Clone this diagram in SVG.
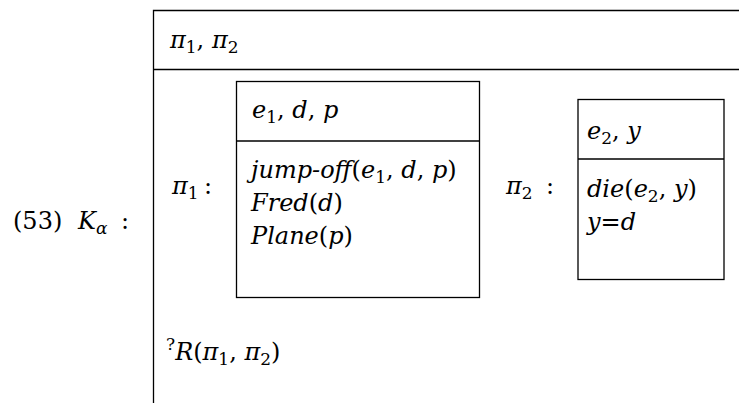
<svg xmlns="http://www.w3.org/2000/svg" width="739" height="403" viewBox="0 0 739 403" font-family="'DejaVu Serif', serif">
<style>
.l{fill:none;stroke:#000;stroke-width:1.3}
text{font-size:24px;fill:#000}
.i{font-style:italic}
.s{font-size:17px;font-style:normal}
.si{font-size:17px;font-style:italic}
</style>
<rect width="739" height="403" fill="#fff"/>
<g id="label">
<text x="13" y="229">(53)<tspan x="78" class="i">K</tspan><tspan class="si" dy="5">α</tspan><tspan x="121" dy="-5">:</tspan></text>
</g>
<g id="outer">
<path class="l" d="M153.5,403 V10.5 H739 M153.5,69.5 H739"/>
<text x="170" y="48"><tspan class="i">π</tspan><tspan class="s" dy="5">1</tspan><tspan dy="-5">, </tspan><tspan class="i">π</tspan><tspan class="s" dy="5">2</tspan></text>
<text x="166" y="360"><tspan class="s" dy="-10">?</tspan><tspan class="i" dy="10">R</tspan>(<tspan class="i">π</tspan><tspan class="s" dy="5">1</tspan><tspan dy="-5">, </tspan><tspan class="i">π</tspan><tspan class="s" dy="5">2</tspan><tspan dy="-5">)</tspan></text>
</g>
<g id="pi1">
<text x="172" y="194"><tspan class="i">π</tspan><tspan class="s" dy="5">1</tspan><tspan x="204" dy="-5">:</tspan></text>
<rect class="l" x="236.5" y="81.5" width="243" height="216"/>
<path class="l" d="M236.5,141 H479.5"/>
<text x="252" y="118"><tspan class="i">e</tspan><tspan class="s" dy="5">1</tspan><tspan dy="-5">, </tspan><tspan class="i">d</tspan>, <tspan class="i">p</tspan></text>
<text x="251" y="178"><tspan class="i">jump-off</tspan>(<tspan class="i">e</tspan><tspan class="s" dy="5">1</tspan><tspan dy="-5">, </tspan><tspan class="i">d</tspan>, <tspan class="i">p</tspan>)</text>
<text x="251" y="211"><tspan class="i">Fred</tspan>(<tspan class="i">d</tspan>)</text>
<text x="251" y="244"><tspan class="i">Plane</tspan>(<tspan class="i">p</tspan>)</text>
</g>
<g id="pi2">
<text x="506" y="194"><tspan class="i">π</tspan><tspan class="s" dy="5">2</tspan><tspan x="546" dy="-5">:</tspan></text>
<rect class="l" x="578" y="99.5" width="146" height="180"/>
<path class="l" d="M578,159 H724"/>
<text x="587" y="139"><tspan class="i">e</tspan><tspan class="s" dy="5">2</tspan><tspan dy="-5">, </tspan><tspan class="i">y</tspan></text>
<text x="587" y="197"><tspan class="i">die</tspan>(<tspan class="i">e</tspan><tspan class="s" dy="5">2</tspan><tspan dy="-5">, </tspan><tspan class="i">y</tspan>)</text>
<text x="587" y="230"><tspan class="i">y</tspan>=<tspan class="i">d</tspan></text>
</g>
<g id="connectors"/>
</svg>
